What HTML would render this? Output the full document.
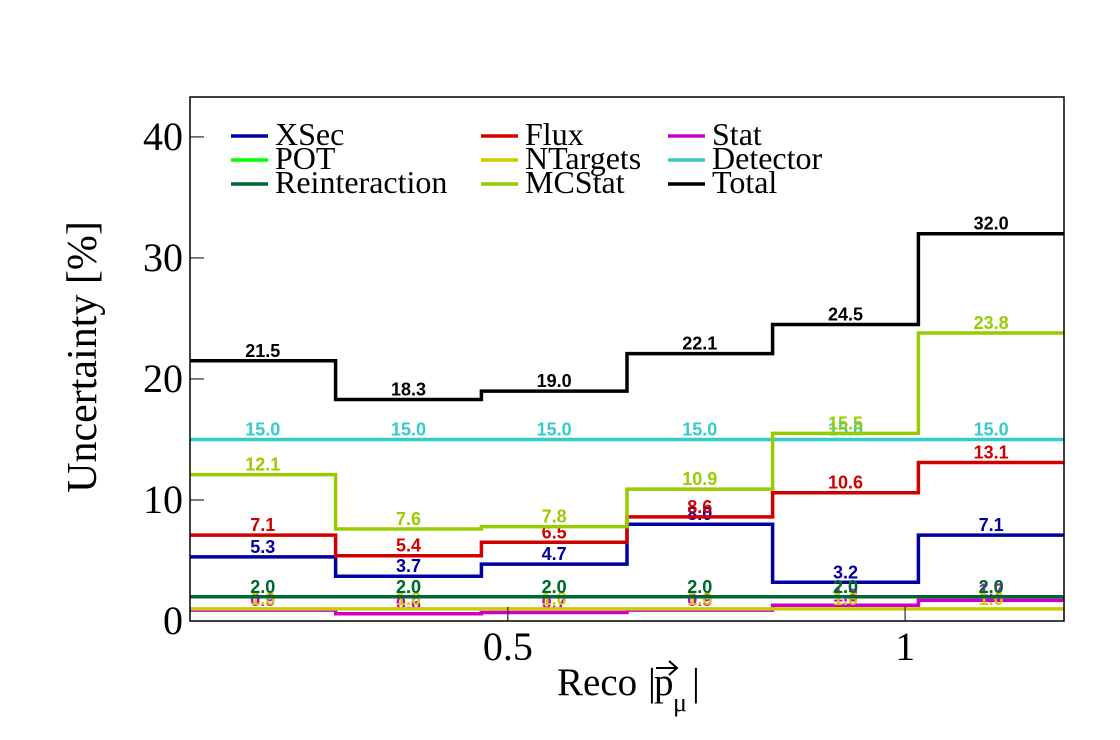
<!DOCTYPE html>
<html><head><meta charset="utf-8"><style>
html,body{margin:0;padding:0;background:#fff;}
svg{display:block;}
</style></head><body>
<svg id="chart" width="1120" height="740" xmlns="http://www.w3.org/2000/svg">
<rect x="0" y="0" width="1120" height="740" fill="#fff"/>
<g id="series"></g>
<rect x="190" y="97" width="874" height="524" fill="none" stroke="#000" stroke-width="1.5"/>
<g id="axes"></g>
<g id="legend"></g>
<text x="96" y="357" transform="rotate(-90 96 357)" text-anchor="middle" font-family="Liberation Serif, serif" font-size="42">Uncertainty [%]</text>
<g>
<text x="557" y="695" font-family="Liberation Serif, serif" font-size="39">Reco</text>
<text x="648" y="695" font-family="Liberation Serif, serif" font-size="39">|</text>
<text x="654" y="695" font-family="Liberation Serif, serif" font-size="39">p</text>
<text x="673" y="711" font-family="Liberation Serif, serif" font-size="26">μ</text>
<text x="692" y="695" font-family="Liberation Serif, serif" font-size="39">|</text>
<path d="M656 668 L677 668 M669 661 L677 668 L669 675" stroke="#000" stroke-width="2" fill="none"/>
</g>
</svg>
<script>
const binEdges = [0.1, 0.2833, 0.4667, 0.65, 0.8333, 1.0167, 1.2];
const seriesNames = ["XSec","Flux","Stat","POT","NTargets","Detector","Reinteraction","MCStat","Total"];
const xsec = [5.3, 3.7, 4.7, 8.0, 3.2, 7.1];
const flux = [7.1, 5.4, 6.5, 8.6, 10.6, 13.1];
const stat = [0.9, 0.6, 0.7, 0.9, 1.3, 1.7];
const pot = [2.0, 2.0, 2.0, 2.0, 2.0, 2.0];
const ntargets = [1.0, 1.0, 1.0, 1.0, 1.0, 1.0];
const detector = [15.0, 15.0, 15.0, 15.0, 15.0, 15.0];
const reinteraction = [2.0, 2.0, 2.0, 2.0, 2.0, 2.0];
const mcstat = [12.1, 7.6, 7.8, 10.9, 15.5, 23.8];
const total = [21.5, 18.3, 19.0, 22.1, 24.5, 32.0];
const yTicks = [0, 10, 20, 30, 40];
const xTicks = [0.5, 1];
const xTickLabels = ["0.5", "1"];

const NS = "http://www.w3.org/2000/svg";
const X0 = 190, X1 = 1064, Y0 = 621, Y1 = 97;
const xmin = 0.1, xmax = 1.2, ymin = 0, ymax = 43.3;
function xs(v){ return X0 + (v - xmin) / (xmax - xmin) * (X1 - X0); }
function ys(v){ return Y0 - (v - ymin) / (ymax - ymin) * (Y0 - Y1); }
function mk(tag, attrs, parent){ const e = document.createElementNS(NS, tag); for (const k in attrs) e.setAttribute(k, attrs[k]); parent.appendChild(e); return e; }

const colors = {"XSec":"#0000a0","Flux":"#d00000","Stat":"#cc00cc","POT":"#00ff00","NTargets":"#cccc00","Detector":"#33cccc","Reinteraction":"#006633","MCStat":"#99cc00","Total":"#000000"};
const data = {"XSec":xsec,"Flux":flux,"Stat":stat,"POT":pot,"NTargets":ntargets,"Detector":detector,"Reinteraction":reinteraction,"MCStat":mcstat,"Total":total};

const sg = document.getElementById("series");
seriesNames.forEach(name => {
  const vals = data[name];
  const g = mk("g", {}, sg);
  
  
  let d = "";
  for (let i = 0; i < vals.length; i++) {
    const xa = xs(binEdges[i]), xb = xs(binEdges[i+1]), y = ys(vals[i]);
    d += (i === 0 ? "M" : "L") + xa.toFixed(1) + " " + y.toFixed(1) + " L" + xb.toFixed(1) + " " + y.toFixed(1) + " ";
  }
  const p = mk("path", {d: d, fill: "none", stroke: colors[name], "stroke-width": 3.5}, g);
  
  
  for (let i = 0; i < vals.length; i++) {
    const cx = (xs(binEdges[i]) + xs(binEdges[i+1])) / 2;
    const t = mk("text", {x: cx, y: ys(vals[i]) - 4, "text-anchor": "middle", "font-family": "Liberation Sans, sans-serif", "font-weight": "bold", "font-size": 18, fill: colors[name]}, g);
    t.textContent = vals[i].toFixed(1);
    
    
  }
});

const ag = document.getElementById("axes");
yTicks.forEach(v => {
  const y = ys(v);
  const l = mk("line", {x1: X0, x2: X0 + 14, y1: y, y2: y, stroke: "#000", "stroke-width": 1}, ag);
  
  
  const t = mk("text", {x: 183, y: y + 13, "text-anchor": "end", "font-family": "Liberation Serif, serif", "font-size": 40}, ag);
  t.textContent = v;
  
  
});
xTicks.forEach((v, i) => {
  const x = xs(v);
  const l = mk("line", {x1: x, x2: x, y1: Y0, y2: Y0 - 14, stroke: "#000", "stroke-width": 1}, ag);
  
  
  const t = mk("text", {x: x, y: 660, "text-anchor": "middle", "font-family": "Liberation Serif, serif", "font-size": 40}, ag);
  t.textContent = xTickLabels[i];
  
  
});

const lg = document.getElementById("legend");
const legendOrder = ["XSec","Flux","Stat","POT","NTargets","Detector","Reinteraction","MCStat","Total"];
const colX = [231, 481, 668];
const rowY = [136, 160, 184];
legendOrder.forEach((name, i) => {
  const c = i % 3, r = Math.floor(i / 3);
  const g = mk("g", {}, lg);
  
  
  mk("line", {x1: colX[c], x2: colX[c] + 37, y1: rowY[r], y2: rowY[r], stroke: colors[name], "stroke-width": 3.5}, g);
  const t = mk("text", {x: colX[c] + 44, y: rowY[r] + 9, "font-family": "Liberation Serif, serif", "font-size": 32}, g);
  t.textContent = name;
});
</script>
</body></html>
